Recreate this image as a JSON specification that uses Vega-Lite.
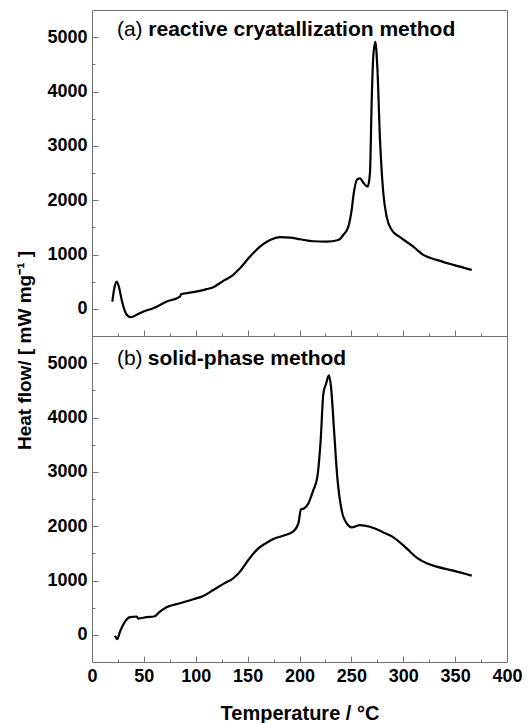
{
  "$schema": "https://vega.github.io/schema/vega-lite/v6.json",
  "background": "white",
  "padding": {"left": 14, "top": 9, "right": 5, "bottom": 2},
  "spacing": 0,
  "bounds": "flush",
  "config": {
    "font": "Liberation Sans",
    "view": {"stroke": "#707070", "strokeWidth": 1},
    "axis": {
      "domain": false,
      "grid": false,
      "format": "d",
      "tickColor": "#707070",
      "tickWidth": 1,
      "labelFont": "Liberation Sans",
      "labelFontWeight": "bold",
      "labelFontSize": 18,
      "labelColor": "black",
      "titleFont": "Liberation Sans",
      "titleFontWeight": "bold",
      "titleColor": "black"
    }
  },
  "datasets": {
    "reactive": [
      {"t": 19.6, "h": 134}, {"t": 21.5, "h": 380}, {"t": 23.8, "h": 502}, {"t": 26, "h": 400},
      {"t": 28.6, "h": 165}, {"t": 31.8, "h": -49}, {"t": 34.5, "h": -130}, {"t": 37.3, "h": -153},
      {"t": 40, "h": -140}, {"t": 43.1, "h": -110}, {"t": 49.5, "h": -49}, {"t": 59.1, "h": 12},
      {"t": 72, "h": 134}, {"t": 84.8, "h": 226}, {"t": 86, "h": 270}, {"t": 97.6, "h": 307},
      {"t": 110.5, "h": 362}, {"t": 116.9, "h": 399}, {"t": 126.6, "h": 515}, {"t": 136.2, "h": 625},
      {"t": 142.7, "h": 748}, {"t": 152.3, "h": 962}, {"t": 161.9, "h": 1145}, {"t": 171.6, "h": 1268},
      {"t": 181.2, "h": 1318}, {"t": 190.8, "h": 1311}, {"t": 200.5, "h": 1281}, {"t": 213.3, "h": 1244},
      {"t": 226.2, "h": 1238}, {"t": 237.4, "h": 1268}, {"t": 242.2, "h": 1360}, {"t": 247.1, "h": 1513},
      {"t": 250.3, "h": 1820}, {"t": 252.5, "h": 2157}, {"t": 255.7, "h": 2384}, {"t": 258.3, "h": 2402},
      {"t": 261.5, "h": 2322}, {"t": 265.7, "h": 2249}, {"t": 267.9, "h": 2494}, {"t": 269.6, "h": 3842},
      {"t": 271.1, "h": 4638}, {"t": 273.1, "h": 4914}, {"t": 275, "h": 4455}, {"t": 277.6, "h": 3107},
      {"t": 280.8, "h": 2127}, {"t": 284, "h": 1697}, {"t": 288.9, "h": 1452}, {"t": 296.9, "h": 1318},
      {"t": 309.7, "h": 1145}, {"t": 319.3, "h": 993}, {"t": 332.2, "h": 901}, {"t": 348.3, "h": 809},
      {"t": 366, "h": 717}
    ],
    "solid": [
      {"t": 22.2, "h": -18}, {"t": 24.4, "h": -80}, {"t": 27, "h": 61}, {"t": 31.8, "h": 245},
      {"t": 36.6, "h": 325}, {"t": 43.1, "h": 337}, {"t": 44.6, "h": 300}, {"t": 52.7, "h": 325},
      {"t": 59.8, "h": 337}, {"t": 65.5, "h": 429}, {"t": 71.9, "h": 509}, {"t": 84.8, "h": 582},
      {"t": 97.6, "h": 655}, {"t": 107.3, "h": 716}, {"t": 116.9, "h": 826}, {"t": 126.6, "h": 937},
      {"t": 136.2, "h": 1041}, {"t": 142.7, "h": 1163}, {"t": 150.7, "h": 1377}, {"t": 160.3, "h": 1591},
      {"t": 168.4, "h": 1695}, {"t": 174.8, "h": 1763}, {"t": 184.4, "h": 1824}, {"t": 194.1, "h": 1904},
      {"t": 198.9, "h": 2051}, {"t": 201.4, "h": 2308}, {"t": 204.3, "h": 2326}, {"t": 208.5, "h": 2418},
      {"t": 213.3, "h": 2662}, {"t": 217.2, "h": 2907}, {"t": 220.4, "h": 3581}, {"t": 223, "h": 4438},
      {"t": 225.6, "h": 4622}, {"t": 228.4, "h": 4774}, {"t": 230.4, "h": 4559}, {"t": 233.3, "h": 3764},
      {"t": 236.4, "h": 2907}, {"t": 240.6, "h": 2295}, {"t": 245.5, "h": 2051}, {"t": 250.3, "h": 1978},
      {"t": 258.3, "h": 2020}, {"t": 267.9, "h": 1989}, {"t": 280.8, "h": 1885}, {"t": 290.5, "h": 1794},
      {"t": 303.3, "h": 1591}, {"t": 313, "h": 1420}, {"t": 322.6, "h": 1316}, {"t": 332.2, "h": 1255},
      {"t": 348.3, "h": 1181}, {"t": 366, "h": 1089}
    ],
    "notes": [
      {"panel": "a", "part": "tag", "label": "(a)", "t": 24, "h": 5130},
      {"panel": "a", "part": "name", "label": "reactive cryatallization method", "t": 54.3, "h": 5130},
      {"panel": "b", "part": "tag", "label": "(b)", "t": 24, "h": 5070},
      {"panel": "b", "part": "name", "label": "solid-phase method", "t": 53.8, "h": 5070}
    ]
  },
  "vconcat": [
    {
      "width": 415,
      "height": 326,
      "resolve": {"axis": {"x": "independent", "y": "independent"}},
      "layer": [
        {
          "data": {"name": "reactive"},
          "mark": {"type": "line", "color": "black", "strokeWidth": 2.2, "interpolate": "monotone"},
          "encoding": {
            "x": {
              "field": "t", "type": "quantitative",
              "scale": {"domain": [0, 400], "nice": false, "zero": false},
              "axis": {"orient": "bottom", "values": [50, 100, 150, 200, 250, 300, 350], "labels": false, "offset": -6, "tickSize": 6, "title": null}
            },
            "y": {
              "field": "h", "type": "quantitative",
              "scale": {"domain": [-500, 5500], "nice": false, "zero": false},
              "axis": {
                "orient": "left", "values": [0, 1000, 2000, 3000, 4000, 5000],
                "offset": -6, "tickSize": 6, "labelPadding": 5,
                "title": "Heat flow/ [ mW mg⁻¹ ]",
                "titleFontSize": 19, "titleAngle": -90,
                "titleX": -74, "titleY": 340,
                "titleAlign": "center", "titleBaseline": "middle"
              }
            }
          }
        },
        {
          "data": {"name": "notes"},
          "transform": [{"filter": "datum.panel == 'a' && datum.part == 'tag'"}],
          "mark": {"type": "text", "align": "left", "baseline": "middle", "fontSize": 21, "fontWeight": "normal", "color": "black"},
          "encoding": {
            "x": {
              "field": "t", "type": "quantitative",
              "axis": {"orient": "bottom", "values": [25, 75, 125, 175, 225, 275, 325, 375], "labels": false, "offset": -3, "tickSize": 3, "title": null}
            },
            "y": {
              "field": "h", "type": "quantitative",
              "axis": {"orient": "left", "values": [500, 1500, 2500, 3500, 4500], "labels": false, "offset": -3, "tickSize": 3, "title": null}
            },
            "text": {"field": "label"}
          }
        },
        {
          "data": {"name": "notes"},
          "transform": [{"filter": "datum.panel == 'a' && datum.part == 'name'"}],
          "mark": {"type": "text", "align": "left", "baseline": "middle", "fontSize": 21, "fontWeight": "bold", "color": "black"},
          "encoding": {
            "x": {"field": "t", "type": "quantitative", "axis": null},
            "y": {"field": "h", "type": "quantitative", "axis": null},
            "text": {"field": "label"}
          }
        }
      ]
    },
    {
      "width": 415,
      "height": 326,
      "resolve": {"axis": {"x": "independent", "y": "independent"}},
      "layer": [
        {
          "data": {"name": "solid"},
          "mark": {"type": "line", "color": "black", "strokeWidth": 2.2, "interpolate": "monotone"},
          "encoding": {
            "x": {
              "field": "t", "type": "quantitative",
              "scale": {"domain": [0, 400], "nice": false, "zero": false},
              "axis": {
                "orient": "bottom", "values": [0, 50, 100, 150, 200, 250, 300, 350, 400],
                "offset": -6, "tickSize": 6, "labelPadding": 5, "labelFlush": false, "labelOverlap": false,
                "title": "Temperature / °C", "titleFontSize": 20,
                "titleY": 57, "titleBaseline": "middle"
              }
            },
            "y": {
              "field": "h", "type": "quantitative",
              "scale": {"domain": [-500, 5500], "nice": false, "zero": false},
              "axis": {"orient": "left", "values": [0, 1000, 2000, 3000, 4000, 5000], "offset": -6, "tickSize": 6, "labelPadding": 5, "title": null}
            }
          }
        },
        {
          "data": {"name": "notes"},
          "transform": [{"filter": "datum.panel == 'b' && datum.part == 'tag'"}],
          "mark": {"type": "text", "align": "left", "baseline": "middle", "fontSize": 21, "fontWeight": "normal", "color": "black"},
          "encoding": {
            "x": {
              "field": "t", "type": "quantitative",
              "axis": {"orient": "bottom", "values": [25, 75, 125, 175, 225, 275, 325, 375], "labels": false, "offset": -3, "tickSize": 3, "title": null}
            },
            "y": {
              "field": "h", "type": "quantitative",
              "axis": {"orient": "left", "values": [500, 1500, 2500, 3500, 4500], "labels": false, "offset": -3, "tickSize": 3, "title": null}
            },
            "text": {"field": "label"}
          }
        },
        {
          "data": {"name": "notes"},
          "transform": [{"filter": "datum.panel == 'b' && datum.part == 'name'"}],
          "mark": {"type": "text", "align": "left", "baseline": "middle", "fontSize": 21, "fontWeight": "bold", "color": "black"},
          "encoding": {
            "x": {"field": "t", "type": "quantitative", "axis": null},
            "y": {"field": "h", "type": "quantitative", "axis": null},
            "text": {"field": "label"}
          }
        }
      ]
    }
  ]
}
